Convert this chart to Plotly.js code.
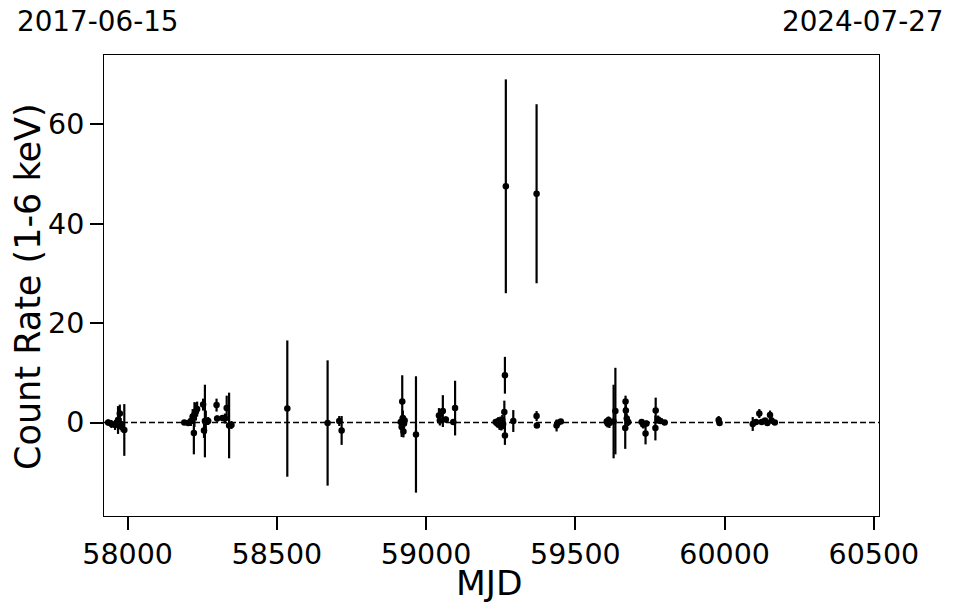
<!DOCTYPE html>
<html>
<head>
<meta charset="utf-8">
<script src="https://cdn.plot.ly/plotly-3.0.1.min.js"></script>
<style>html,body{margin:0;padding:0;background:#fff;}#chart{width:957px;height:613px;}</style>
</head>
<body>
<div id="chart"></div>
<script>
// Observation dates (MJD)
const mjd = [
  57935, 57946, 57958, 57963, 57968, 57974, 57977, 57980, 57989,
  58190, 58203, 58212, 58218, 58222, 58224, 58229, 58233, 58253, 58256, 58259, 58262, 58270,
  58298, 58300, 58318, 58326, 58332, 58340, 58348,
  58535, 58670, 58709, 58717,
  58915, 58918, 58920, 58922, 58924, 58926, 58928, 58966,
  59043, 59046, 59056, 59066, 59091, 59097,
  59233, 59238, 59242, 59246, 59249, 59252, 59255, 59258, 59262, 59264, 59264, 59267, 59292,
  59370, 59370, 59371, 59437, 59441, 59451,
  59605, 59608, 59611, 59614, 59628, 59634, 59667, 59668, 59669, 59672, 59677,
  59722, 59727, 59735, 59738, 59768, 59769, 59777, 59785, 59799,
  59980, 59983, 60094, 60105, 60116, 60124, 60135, 60143, 60152, 60157, 60168
];
// Count rate (1-6 keV)
const rate = [
  0.0, -0.3, -0.5, -0.1, 0.5, 1.8, -0.3, -0.8, -1.5,
  0.0, -0.1, 0.3, 1.2, -2.1, 1.6, 2.2, 2.7, 3.6, -1.6, 0.3, 0.1, 0.3,
  3.5, 0.8, 0.9, 0.8, 2.9, -0.6, -0.5,
  2.8, -0.1, 0.3, -1.6,
  0.1, -0.9, 4.2, 0.9, -1.8, -0.2, 0.4, -2.4,
  1.4, 0.4, 2.3, 0.6, 0.1, 2.9,
  0.1, -0.2, 0.3, -0.5, 0.0, -0.8, 0.5, -0.3, 2.1, 9.5, -2.6, 47.5, 0.3,
  46.0, 1.3, -0.6, -0.6, -0.1, 0.2,
  0.2, -0.2, 0.5, -0.1, 0.2, 2.3, -1.1, 4.2, 2.4, 0.8, 0.1,
  0.1, -0.4, -2.2, -0.2, -1.1, 2.4, 0.6, 0.3, 0.0,
  0.5, -0.1, -0.3, 0.1, 1.8, 0.1, 0.4, -0.1, 1.5, 0.4, 0.0
];
// 1-sigma uncertainties
const err = [
  0.6, 0.8, 1.0, 0.8, 2.8, 1.8, 1.2, 1.0, 5.2,
  0.5, 0.6, 1.0, 1.5, 4.3, 2.5, 1.8, 1.5, 1.2, 1.5, 7.3, 2.3, 0.8,
  1.3, 0.6, 0.6, 1.0, 2.5, 6.6, 0.8,
  13.7, 12.6, 1.0, 2.9,
  1.0, 2.0, 5.3, 1.5, 1.2, 1.0, 0.8, 11.7,
  1.5, 1.0, 3.2, 0.6, 0.5, 5.5,
  0.6, 0.8, 0.8, 1.0, 1.2, 0.8, 1.0, 1.0, 2.3, 3.7, 1.9, 21.5, 2.2,
  18.0, 1.0, 0.5, 1.2, 0.6, 0.5,
  0.5, 0.8, 0.7, 1.0, 7.4, 8.7, 4.2, 1.2, 1.2, 1.0, 0.8,
  0.6, 0.8, 2.2, 0.6, 2.5, 2.6, 0.8, 0.6, 0.5,
  0.8, 0.5, 1.4, 0.6, 0.9, 0.6, 0.5, 0.6, 0.9, 0.6, 0.5
];
const xTicks = [58000, 58500, 59000, 59500, 60000, 60500];
const yTicks = [0, 20, 40, 60];
const xTitle = "MJD";
const yTitle = "Count Rate (1-6 keV)";
const startDate = "2017-06-15";
const endDate = "2024-07-27";

const font = "DejaVu Sans, sans-serif";

const trace = {
  x: mjd, y: rate, type: "scatter", mode: "markers",
  marker: {color: "black", size: 6.5},
  error_y: {type: "data", array: err, visible: true, color: "black", thickness: 2.2, width: 0},
  hoverinfo: "x+y"
};

const layout = {
  width: 957, height: 613,
  margin: {l: 104, r: 78, t: 55, b: 97},
  paper_bgcolor: "white", plot_bgcolor: "white",
  showlegend: false,
  font: {family: font, color: "black"},
  xaxis: {
    range: [57921, 60517],
    tickvals: xTicks, ticktext: xTicks.map(String),
    ticks: "outside", ticklen: 13, tickwidth: 2, tickcolor: "black",
    showgrid: false, zeroline: false,
    showline: true, mirror: true, linecolor: "black", linewidth: 1,
    tickfont: {family: font, size: 28.5, color: "black"}
  },
  yaxis: {
    range: [-18.8, 73.9],
    tickvals: yTicks, ticktext: yTicks.map(String),
    ticks: "outside", ticklen: 13, tickwidth: 2, tickcolor: "black",
    showgrid: false, zeroline: false,
    showline: true, mirror: true, linecolor: "black", linewidth: 1,
    tickfont: {family: font, size: 28.5, color: "black"}
  },
  shapes: [{
    type: "line", xref: "paper", x0: 0, x1: 1, yref: "y", y0: 0, y1: 0,
    line: {color: "black", width: 1.5, dash: "6px,3px"}, layer: "below"
  }],
  annotations: [
    {text: startDate, xref: "paper", yref: "paper", x: -0.1148, y: 1.0716,
     xanchor: "left", yanchor: "middle", showarrow: false,
     font: {family: font, size: 27.8, color: "black"}},
    {text: endDate, xref: "paper", yref: "paper", x: 1.0865, y: 1.0716,
     xanchor: "right", yanchor: "middle", showarrow: false,
     font: {family: font, size: 27.8, color: "black"}},
    {text: xTitle, xref: "paper", yref: "paper", x: 0.498, y: -0.145,
     xanchor: "center", yanchor: "middle", showarrow: false,
     font: {family: font, size: 34.5, color: "black"}},
    {text: yTitle, xref: "paper", yref: "paper", x: -0.098, y: 0.497, textangle: -90,
     xanchor: "center", yanchor: "middle", showarrow: false,
     font: {family: font, size: 35, color: "black"}}
  ]
};

Plotly.newPlot("chart", [trace], layout, {staticPlot: true, displayModeBar: false});
</script>
</body>
</html>
